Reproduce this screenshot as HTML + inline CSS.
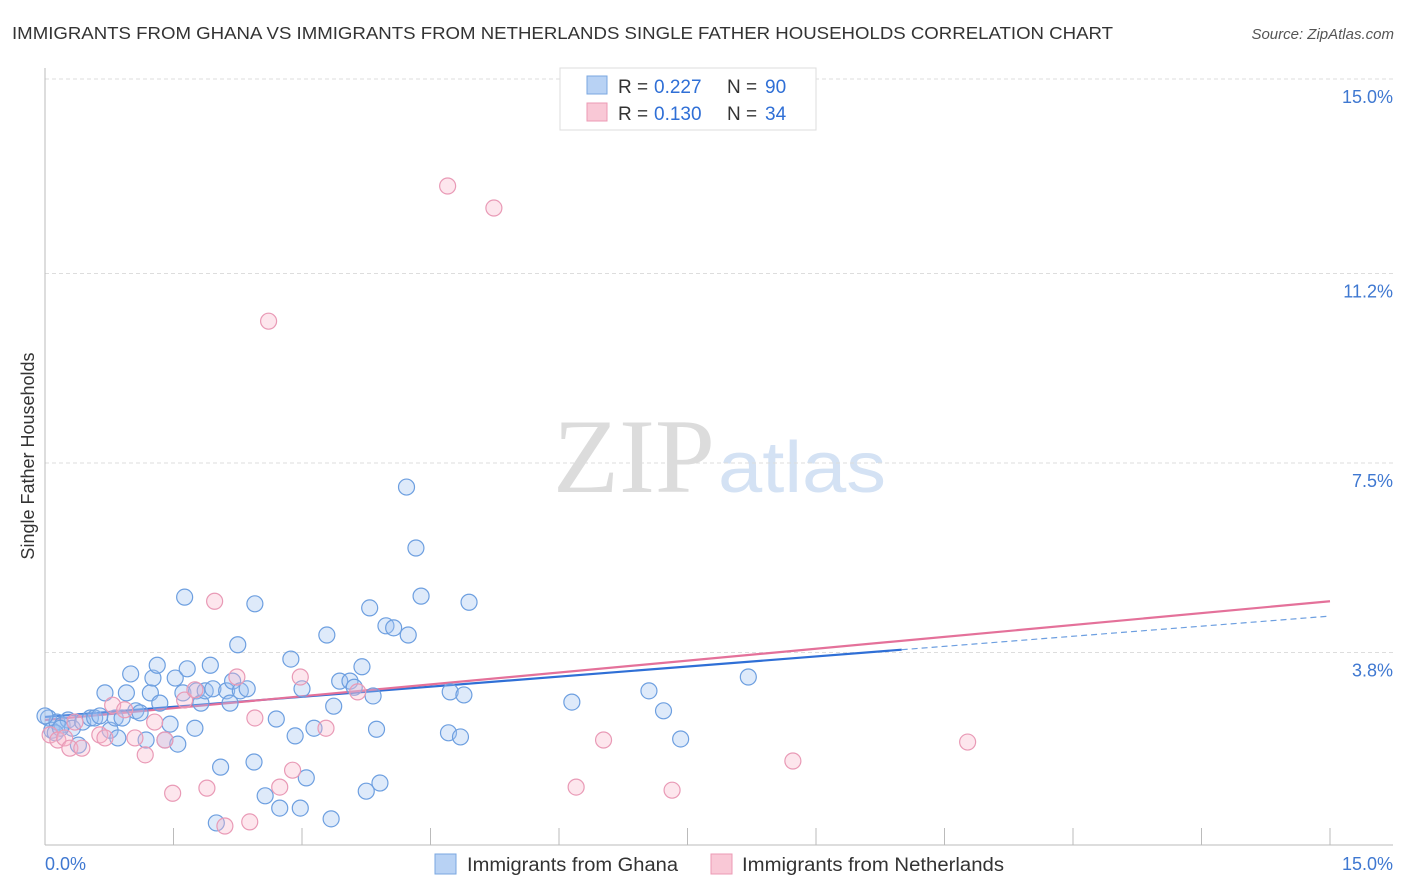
<!DOCTYPE html>
<html><head><meta charset="utf-8"><style>
body{margin:0;background:#fff;font-family:"Liberation Sans",sans-serif;}
svg{display:block}
</style></head><body>
<svg id="chart" width="1406" height="892" font-family="Liberation Sans, sans-serif">
<text x="12" y="39" font-size="17.5" fill="#333" textLength="1101" lengthAdjust="spacingAndGlyphs">IMMIGRANTS FROM GHANA VS IMMIGRANTS FROM NETHERLANDS SINGLE FATHER HOUSEHOLDS CORRELATION CHART</text>
<text x="1394" y="39" font-size="15" font-style="italic" fill="#555" text-anchor="end">Source: ZipAtlas.com</text>
<text transform="translate(34,456) rotate(-90)" font-size="18" fill="#333" text-anchor="middle">Single Father Households</text>
<g>
<text x="553" y="492" font-family="Liberation Serif, serif" font-size="106" fill="#dcdcdc" textLength="162" lengthAdjust="spacingAndGlyphs">ZIP</text>
<text x="718" y="492" font-size="72" fill="#d4e2f4" textLength="168" lengthAdjust="spacingAndGlyphs">atlas</text>
</g>
<g id="grid"></g>
<g id="axes"></g>
<g id="lines"></g>
<g id="pts"></g>
<g>
<rect x="560" y="68" width="256" height="62" fill="#fff" stroke="#ddd"/>
<rect x="587" y="76" width="20" height="18" fill="#b8d2f4" stroke="#7aa7e0"/>
<text y="93" font-size="19" fill="#333"><tspan x="618">R =</tspan><tspan x="654" fill="#2f6fd6">0.227</tspan><tspan x="727">N =</tspan><tspan x="765" fill="#2f6fd6">90</tspan></text>
<rect x="587" y="103" width="20" height="18" fill="#f9c8d6" stroke="#ec9ab4"/>
<text y="120" font-size="19" fill="#333"><tspan x="618">R =</tspan><tspan x="654" fill="#2f6fd6">0.130</tspan><tspan x="727">N =</tspan><tspan x="765" fill="#2f6fd6">34</tspan></text>
</g>
<g>
<rect x="435" y="854" width="21" height="20" fill="#b8d2f4" stroke="#7aa7e0"/>
<text x="467" y="871" font-size="19" fill="#333" textLength="211" lengthAdjust="spacingAndGlyphs">Immigrants from Ghana</text>
<rect x="711" y="854" width="21" height="20" fill="#f9c8d6" stroke="#ec9ab4"/>
<text x="742" y="871" font-size="19" fill="#333" textLength="262" lengthAdjust="spacingAndGlyphs">Immigrants from Netherlands</text>
</g>
</svg>
<script>
const yTicks=[15.0,11.2,7.5,3.8];
const yTickLabels=["15.0%","11.2%","7.5%","3.8%"];
const xLabels=["0.0%","15.0%"];
const ghanaX=[0.04,0.08,0.14,0.2,0.27,0.32,0.39,0.44,0.53,0.58,0.64,0.7,0.76,0.82,0.85,0.9,0.95,1.0,1.06,1.11,1.18,1.23,1.26,1.31,1.34,1.4,1.46,1.52,1.55,1.63,1.66,1.61,1.75,1.77,1.82,1.87,1.93,1.96,2.05,2.0,2.12,2.16,2.19,2.25,2.28,2.36,2.44,2.45,2.57,2.7,2.74,2.87,2.92,2.98,3.0,3.05,3.14,3.29,3.34,3.37,3.44,3.56,3.61,3.7,3.75,3.79,3.83,3.87,3.91,3.98,4.07,4.24,4.22,4.33,4.39,4.71,4.73,4.85,4.89,4.95,6.15,7.05,7.22,7.42,8.21,0,0.12,0.18];
const ghanaY=[2.52,2.28,2.44,2.38,2.48,2.32,1.99,2.44,2.52,2.52,2.56,3.01,2.28,2.52,2.13,2.52,3.01,3.38,2.66,2.62,2.09,3.01,3.3,3.55,2.81,2.09,2.4,3.3,2.01,4.88,3.48,3.01,2.32,3.05,2.81,3.05,3.55,3.09,1.56,0.47,3.05,2.81,3.24,3.95,3.05,3.09,1.66,4.75,1.0,2.5,0.76,3.67,2.17,0.76,3.09,1.35,2.32,4.14,0.55,2.75,3.24,3.24,3.12,3.52,1.09,4.67,2.95,2.3,1.25,4.32,4.28,4.14,7.03,5.84,4.9,2.23,3.03,2.15,2.97,4.78,2.83,3.05,2.66,2.11,3.32,2.56,2.23,2.32];
const nethX=[0.06,0.15,0.23,0.29,0.35,0.43,0.64,0.7,0.79,0.93,1.05,1.17,1.28,1.4,1.49,1.63,1.75,1.89,1.98,2.1,2.24,2.39,2.45,2.61,2.74,2.89,2.98,3.28,3.65,4.7,5.24,6.2,6.52,7.32,8.73,10.77];
const nethY=[2.19,2.09,2.13,1.93,2.44,1.93,2.19,2.13,2.77,2.68,2.13,1.8,2.44,2.09,1.05,2.87,3.07,1.15,4.8,0.41,3.32,0.49,2.52,10.27,1.17,1.5,3.32,2.32,3.03,12.91,12.48,1.17,2.09,1.11,1.68,2.05];
const ghanaTrend=[2.54,4.51]; const ghanaSolidEnd=10.0;
const nethTrend=[2.48,4.8];
const NS="http://www.w3.org/2000/svg";
const sx=v=>45+v/15*1285, sy=v=>847-v/3.75*192;
function mk(tag,attrs,parent){const e=document.createElementNS(NS,tag);for(const k in attrs)e.setAttribute(k,attrs[k]);document.getElementById(parent).appendChild(e);return e;}
yTicks.forEach((t,i)=>{
 const g=mk('line',{x1:45,x2:1393,y1:sy(t),y2:sy(t),stroke:'#ddd','stroke-dasharray':'4,3'},'grid');
 
 
 const l=mk('text',{x:1393,y:sy(t)+24,'font-size':18,fill:'#3f78d1','text-anchor':'end'},'axes');
 l.textContent=yTickLabels[i];
 
 
});
mk('line',{x1:45,x2:45,y1:68,y2:845,stroke:'#bbb'},'axes');
mk('line',{x1:45,x2:1393,y1:845,y2:845,stroke:'#bbb'},'axes');
for(let i=0;i<=10;i++){const t=mk('line',{x1:sx(i*1.5),x2:sx(i*1.5),y1:828,y2:845,stroke:'#bbb'},'axes');}
const xl0=mk('text',{x:45,y:870,'font-size':18,fill:'#3f78d1'},'axes');xl0.textContent=xLabels[0];


const xl1=mk('text',{x:1393,y:870,'font-size':18,fill:'#3f78d1','text-anchor':'end'},'axes');xl1.textContent=xLabels[1];


ghanaX.forEach((x,i)=>{const c=mk('circle',{cx:sx(x),cy:sy(ghanaY[i]),r:8,fill:'rgba(160,196,240,0.35)',stroke:'#6d9fe0','stroke-width':1.2},'pts');
 
 });
nethX.forEach((x,i)=>{const c=mk('circle',{cx:sx(x),cy:sy(nethY[i]),r:8,fill:'rgba(248,182,202,0.35)',stroke:'#e99ab6','stroke-width':1.2},'pts');
 
 });
const gy=x=>ghanaTrend[0]+(ghanaTrend[1]-ghanaTrend[0])*x/15;
const l1=mk('line',{x1:sx(0),y1:sy(gy(0)),x2:sx(ghanaSolidEnd),y2:sy(gy(ghanaSolidEnd)),stroke:'#2f6fd6','stroke-width':2.2},'lines');


const l2=mk('line',{x1:sx(ghanaSolidEnd),y1:sy(gy(ghanaSolidEnd)),x2:sx(15),y2:sy(gy(15)),stroke:'#6d9fe0','stroke-width':1.2,'stroke-dasharray':'6,4'},'lines');


const l3=mk('line',{x1:sx(0),y1:sy(nethTrend[0]),x2:sx(15),y2:sy(nethTrend[1]),stroke:'#e4719a','stroke-width':2.2},'lines');


</script>
</body></html>
